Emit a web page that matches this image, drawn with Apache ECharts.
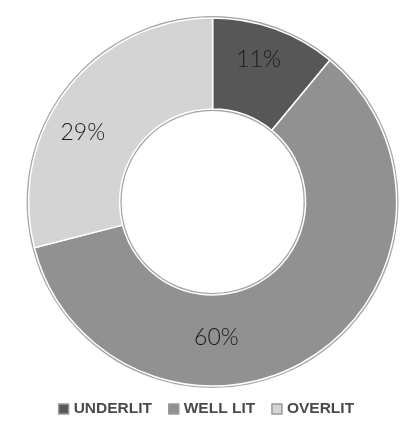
<!DOCTYPE html>
<html>
<head>
<meta charset="utf-8">
<script src="https://cdn.jsdelivr.net/npm/echarts@6/dist/echarts.min.js"></script>
<style>
  html, body { margin: 0; padding: 0; background: #ffffff; }
  #chart { width: 412px; height: 425px; }
</style>
</head>
<body>
<div id="chart"></div>
<script>
// Lighting categories and their share of readings (%)
const categories = ['UNDERLIT', 'WELL LIT', 'OVERLIT'];
const shares = [11, 60, 29];
const sliceColors = ['#575757', '#919191', '#d4d4d4'];

const chart = echarts.init(document.getElementById('chart'));

const center = ['51.6%', 202];
const inner = 93;
const outer = 184;

// label nudges so each percentage sits in the open part of its slice
const labelNudge = [[-2, -9], [-72, 16], [-18, 17]];

const option = {
  animation: false,
  legend: {
    data: categories,
    bottom: 3,
    left: 'center',
    icon: 'rect',
    itemWidth: 10,
    itemHeight: 10,
    itemGap: 16,
    selectedMode: false,
    itemStyle: { borderColor: '#9a9a9a', borderWidth: 1.5 },
    textStyle: {
      fontFamily: 'Liberation Sans',
      fontWeight: 'bold',
      fontSize: 15.5,
      color: '#4a4a4a'
    }
  },
  series: [
    {
      // grey rim around the outside of the ring
      type: 'pie',
      silent: true,
      center: center,
      radius: [outer, outer + 2],
      label: { show: false },
      labelLine: { show: false },
      itemStyle: { color: '#a6a6a6' },
      data: [{ value: 1, name: 'rim-outer' }]
    },
    {
      // grey rim around the hole
      type: 'pie',
      silent: true,
      center: center,
      radius: [inner - 2, inner],
      label: { show: false },
      labelLine: { show: false },
      itemStyle: { color: '#a6a6a6' },
      data: [{ value: 1, name: 'rim-inner' }]
    },
    {
      type: 'pie',
      center: center,
      radius: [inner, outer],
      startAngle: 90,
      clockwise: true,
      itemStyle: { borderColor: '#ffffff', borderWidth: 1.5 },
      label: {
        show: true,
        position: 'inside',
        formatter: '{c}%',
        fontFamily: 'Lato',
        fontWeight: 300,
        fontSize: 23,
        color: '#1a1a1a'
      },
      labelLayout: function (p) {
        const n = labelNudge[p.dataIndex] || [0, 0];
        return { dx: n[0], dy: n[1] };
      },
      data: categories.map((c, i) => ({
        name: c,
        value: shares[i],
        itemStyle: { color: sliceColors[i] }
      }))
    }
  ]
};

chart.setOption(option);
</script>
</body>
</html>
